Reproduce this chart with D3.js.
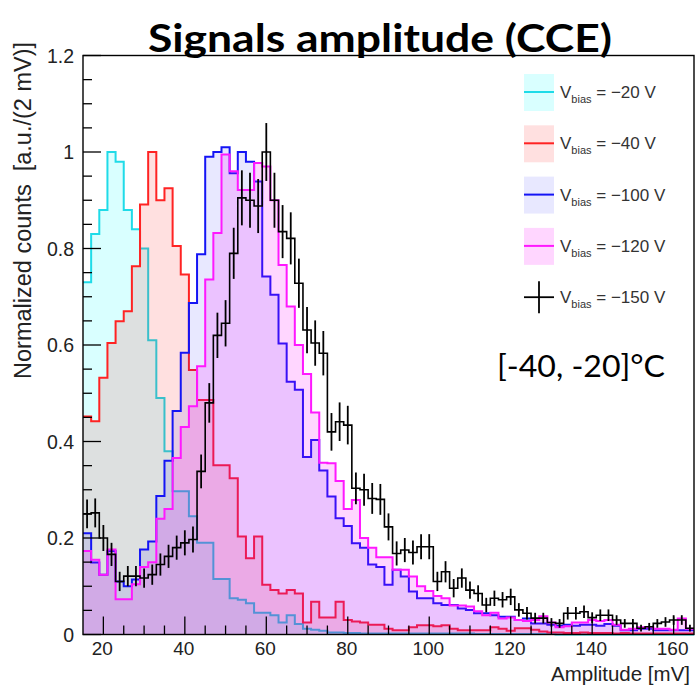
<!DOCTYPE html>
<html>
<head>
<meta charset="utf-8">
<script src="https://cdn.jsdelivr.net/npm/d3@7"></script>
<style>
  body { margin: 0; background: #fff; }
  svg { display: block; }
  .root { font-family: "Liberation Sans", Arial, sans-serif; }
  .ppt { font-family: Lato, "Open Sans", sans-serif; }
</style>
</head>
<body>
<div id="chart"></div>
<script>
// histogram binning: 2 mV bins starting at 15 mV
const binLow = 15, binWidth = 2;

const vbiasLabels = ["−20", "−40", "−100", "−120", "−150"];

// normalized counts per bin (75 bins, 15..165 mV)
const counts20 = [0.73, 0.83, 0.88, 1.00, 0.98, 0.88, 0.84, 0.80, 0.61, 0.49,
  0.38, 0.297, 0.297, 0.245, 0.19, 0.19, 0.115, 0.115, 0.075, 0.072,
  0.065, 0.045, 0.045, 0.04, 0.025, 0.04, 0.022, 0.012, 0.01, 0.008,
  0.004, 0.004, 0.003, 0.003, 0.002, 0.002, 0.002, 0.002, 0.002, 0.002,
  0.002, 0.002, 0.002, 0.002, 0.002, 0.002, 0.002, 0.002, 0.001, 0.001,
  0.001, 0.001, 0.001, 0.001, 0.001, 0.001, 0.001, 0.001, 0, 0,
  0, 0, 0, 0, 0, 0, 0, 0, 0, 0,
  0, 0, 0, 0, 0];

const counts40 = [0.452, 0.442, 0.532, 0.604, 0.649, 0.67, 0.763, 0.891, 1.0, 0.9,
  0.925, 0.805, 0.746, 0.548, 0.486, 0.486, 0.351, 0.351, 0.324, 0.203,
  0.158, 0.203, 0.103, 0.092, 0.085, 0.092, 0.085, 0.025, 0.068, 0.035,
  0.035, 0.068, 0.03, 0.027, 0.025, 0.02, 0.02, 0.012, 0.009, 0.009,
  0.015, 0.019, 0.019, 0.017, 0.019, 0.012, 0.009, 0.009, 0.009, 0.009,
  0.015, 0.012, 0.008, 0.013, 0.013, 0.01, 0.006, 0.004, 0.004, 0.003,
  0.003, 0.004, 0.003, 0.003, 0.003, 0.002, 0.003, 0.002, 0.002, 0.002,
  0.002, 0.002, 0.002, 0.002, 0.002];

const counts100 = [0.21, 0.149, 0.124, 0.173, 0.11, 0.10, 0.114, 0.176, 0.193, 0.287,
  0.36, 0.463, 0.584, 0.687, 0.788, 0.99, 1.0, 1.01, 0.956, 1.0,
  0.98, 0.939, 0.742, 0.704, 0.603, 0.524, 0.507, 0.368, 0.403, 0.34,
  0.286, 0.241, 0.225, 0.189, 0.18, 0.145, 0.14, 0.103, 0.134, 0.12,
  0.089, 0.075, 0.075, 0.065, 0.061, 0.061, 0.054, 0.051, 0.044, 0.044,
  0.04, 0.037, 0.037, 0.03, 0.033, 0.023, 0.023, 0.02, 0.018, 0.02,
  0.018, 0.02, 0.02, 0.018, 0.022, 0.018, 0.009, 0.009, 0.012, 0.012,
  0.009, 0.009, 0.009, 0.009, 0.009];

const counts120 = [0.173, 0.155, 0.124, 0.176, 0.073, 0.073, 0.104, 0.14, 0.15, 0.24,
  0.26, 0.366, 0.43, 0.473, 0.556, 0.736, 0.832, 0.995, 0.96, 0.921,
  0.921, 0.977, 0.97, 0.90, 0.766, 0.68, 0.60, 0.54, 0.46, 0.356,
  0.355, 0.318, 0.26, 0.279, 0.2, 0.18, 0.16, 0.16, 0.134, 0.134,
  0.12, 0.1, 0.09, 0.08, 0.075, 0.06, 0.06, 0.058, 0.048, 0.04,
  0.045, 0.033, 0.035, 0.03, 0.028, 0.03, 0.038, 0.025, 0.015, 0.017,
  0.025, 0.025, 0.03, 0.028, 0.03, 0.02, 0.01, 0.012, 0.015, 0.015,
  0.012, 0.012, 0.01, 0.033, 0.012];

const counts150 = [0.25, 0.252, 0.20, 0.166, 0.11, 0.121, 0.121, 0.117, 0.124, 0.145,
  0.162, 0.18, 0.19, 0.197, 0.338, 0.48, 0.62, 0.645, 0.79, 0.905,
  0.90, 0.888, 1.0, 0.90, 0.835, 0.821, 0.728, 0.631, 0.604, 0.583,
  0.42, 0.441, 0.434, 0.303, 0.30, 0.282, 0.28, 0.223, 0.168, 0.175,
  0.17, 0.182, 0.182, 0.11, 0.13, 0.096, 0.117, 0.092, 0.085, 0.061,
  0.075, 0.072, 0.078, 0.051, 0.044, 0.034, 0.034, 0.025, 0.023, 0.044,
  0.044, 0.047, 0.035, 0.04, 0.04, 0.03, 0.023, 0.023, 0.013, 0.016,
  0.023, 0.026, 0.03, 0.03, 0.013];

const errors150 = [0.03, 0.03, 0.027, 0.024, 0.02, 0.021, 0.021, 0.02, 0.021, 0.023,
  0.024, 0.025, 0.026, 0.027, 0.035, 0.041, 0.047, 0.048, 0.053, 0.057,
  0.057, 0.056, 0.06, 0.057, 0.055, 0.054, 0.051, 0.048, 0.047, 0.046,
  0.039, 0.04, 0.04, 0.033, 0.033, 0.032, 0.032, 0.028, 0.025, 0.025,
  0.025, 0.026, 0.026, 0.02, 0.022, 0.019, 0.02, 0.018, 0.017, 0.015,
  0.016, 0.016, 0.017, 0.014, 0.013, 0.011, 0.011, 0.009, 0.009, 0.013,
  0.013, 0.013, 0.011, 0.012, 0.012, 0.01, 0.009, 0.009, 0.007, 0.008,
  0.009, 0.01, 0.01, 0.01, 0.007];

const yTicks = [0, 0.2, 0.4, 0.6, 0.8, 1, 1.2];
const xTicks = [20, 40, 60, 80, 100, 120, 140, 160];

const series = [
  { name: vbiasLabels[0], values: counts20,  line: "#1fdbe8", fill: "rgba(0,255,255,0.15)" },
  { name: vbiasLabels[1], values: counts40,  line: "#ff2323", fill: "rgba(255,0,0,0.12)" },
  { name: vbiasLabels[2], values: counts100, line: "#1414f5", fill: "rgba(0,0,255,0.09)" },
  { name: vbiasLabels[3], values: counts120, line: "#ff18ff", fill: "rgba(255,0,255,0.16)" },
  { name: vbiasLabels[4], values: counts150, line: "#000000", fill: null, errors: errors150 }
];

const W = 695, H = 686;
const svg = d3.select("#chart").append("svg").attr("width", W).attr("height", H);

const x = d3.scaleLinear().domain([15, 165]).range([83, 694]);
const y = d3.scaleLinear().domain([0, 1.2]).range([634.5, 55.5]);

// step outline: one point per bin edge, last value repeated on the closing edge
function stepPoints(vals) {
  const pts = vals.map((v, i) => [binLow + i * binWidth, v]);
  pts.push([binLow + vals.length * binWidth, vals[vals.length - 1]]);
  return pts;
}

const area = d3.area().curve(d3.curveStepAfter)
  .x(d => x(d[0])).y0(y(0)).y1(d => y(d[1]));
const line = d3.line().curve(d3.curveStepAfter)
  .x(d => x(d[0])).y(d => y(d[1]));

const plot = svg.append("g");

series.forEach(s => {
  const pts = stepPoints(s.values);
  if (s.fill) plot.append("path").attr("d", area(pts)).attr("fill", s.fill);
  plot.append("path").attr("d", line(pts))
    .attr("fill", "none").attr("stroke", s.line)
    .attr("stroke-width", s.errors ? 1.6 : 2);
  if (s.errors) {
    plot.selectAll(null).data(s.values).enter().append("line")
      .attr("x1", (d, i) => x(binLow + (i + 0.5) * binWidth))
      .attr("x2", (d, i) => x(binLow + (i + 0.5) * binWidth))
      .attr("y1", (d, i) => y(d - s.errors[i]))
      .attr("y2", (d, i) => y(Math.min(1.2, d + s.errors[i])))
      .attr("stroke", "#000").attr("stroke-width", 1.8);
  }
});

// frame
svg.append("rect")
  .attr("x", x(15)).attr("y", y(1.2))
  .attr("width", x(165) - x(15)).attr("height", y(0) - y(1.2))
  .attr("fill", "none").attr("stroke", "#000").attr("stroke-width", 1.4);

// y axis ticks (inside) and labels
const yMinor = d3.range(0, 1.2001, 0.05);
svg.append("g").selectAll("line").data(yMinor).enter().append("line")
  .attr("x1", x(15)).attr("x2", d => x(15) + (Math.abs(d * 5 - Math.round(d * 5)) < 1e-6 ? 18 : 9))
  .attr("y1", d => y(d)).attr("y2", d => y(d))
  .attr("stroke", "#000").attr("stroke-width", 1.3);
svg.append("g").attr("class", "root").selectAll("text").data(yTicks).enter().append("text")
  .attr("x", 74).attr("y", d => y(d) + 7)
  .attr("text-anchor", "end").attr("font-size", 19.5).attr("fill", "#222")
  .text(d => d3.format("~g")(d));

// x axis ticks (inside) and labels
const xMinor = d3.range(20, 165, 5);
svg.append("g").selectAll("line").data(xMinor).enter().append("line")
  .attr("x1", d => x(d)).attr("x2", d => x(d))
  .attr("y1", y(0)).attr("y2", d => y(0) - (d % 20 === 0 ? 18 : 9))
  .attr("stroke", "#000").attr("stroke-width", 1.3);
svg.append("g").attr("class", "root").selectAll("text").data(xTicks).enter().append("text")
  .attr("x", d => x(d) - 1).attr("y", 655)
  .attr("text-anchor", "middle").attr("font-size", 19).attr("fill", "#222")
  .text(d => d);

// axis titles
svg.append("text").attr("class", "root")
  .attr("x", 690).attr("y", 681).attr("text-anchor", "end")
  .attr("font-size", 20.5).attr("fill", "#222")
  .text("Amplitude [mV]");
svg.append("text").attr("class", "root")
  .attr("transform", "translate(31,42) rotate(-90)")
  .attr("text-anchor", "end").attr("font-size", 23.5).attr("fill", "#222")
  .attr("xml:space", "preserve")
  .text("Normalized counts  [a.u./(2 mV)]");

// legend (no border, white background)
const leg = svg.append("g").attr("class", "root");
series.forEach((s, i) => {
  const cy = 92 + i * 51.3;
  if (s.fill) {
    leg.append("rect").attr("x", 524).attr("y", cy - 18).attr("width", 30).attr("height", 37)
      .attr("fill", s.fill);
    leg.append("line").attr("x1", 524).attr("x2", 554).attr("y1", cy).attr("y2", cy)
      .attr("stroke", s.line).attr("stroke-width", 2);
  } else {
    leg.append("line").attr("x1", 524).attr("x2", 554).attr("y1", cy).attr("y2", cy)
      .attr("stroke", "#000").attr("stroke-width", 1.8);
    leg.append("line").attr("x1", 539).attr("x2", 539).attr("y1", cy - 16).attr("y2", cy + 16)
      .attr("stroke", "#000").attr("stroke-width", 1.8);
  }
  const t = leg.append("text").attr("x", 560).attr("y", cy + 6)
    .attr("font-size", 17).attr("fill", "#333");
  t.append("tspan").text("V");
  t.append("tspan").attr("font-size", 11).attr("dy", 5).text("bias");
  t.append("tspan").attr("dy", -5).text(" = " + s.name + " V");
});

// title and temperature range
svg.append("text").attr("class", "ppt")
  .attr("x", 148).attr("y", 52)
  .attr("font-weight", "bold").attr("font-size", 39).attr("fill", "#000")
  .attr("textLength", 464).attr("lengthAdjust", "spacingAndGlyphs")
  .text("Signals amplitude (CCE)");
svg.append("text").attr("class", "ppt")
  .attr("x", 497).attr("y", 377)
  .attr("font-size", 31).attr("fill", "#000")
  .attr("textLength", 168).attr("lengthAdjust", "spacingAndGlyphs")
  .text("[-40, -20]°C");
</script>
</body>
</html>
